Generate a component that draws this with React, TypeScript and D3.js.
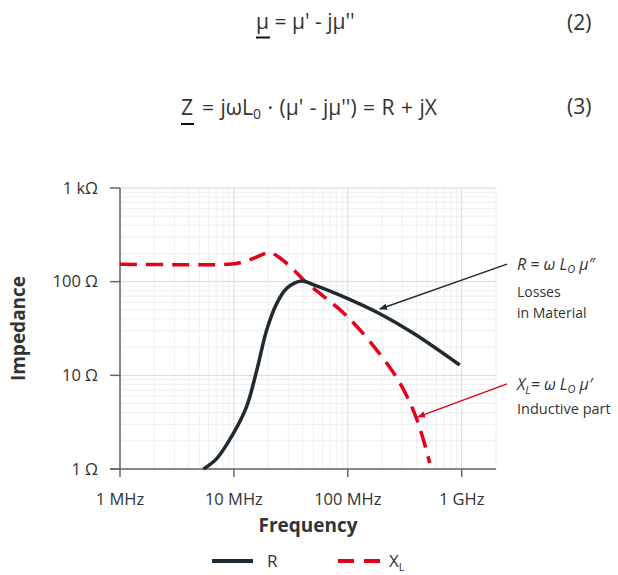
import React from 'react';
import * as d3 from 'd3';

// frequency in MHz, impedance in ohm
const rFreq = [5.4, 7.1, 9.9, 12.9, 15.9, 19.4, 23.8, 29.1, 39.4, 49.6, 100, 191, 374, 960];
const rVal = [1, 1.3, 2.4, 4.6, 11.4, 30.5, 58.7, 84.9, 101.6, 93, 66, 45.5, 28.3, 12.9];

const xlFreq = [1, 3, 6, 8.9, 11.3, 14.8, 18, 20.7, 25.4, 35.6, 42, 49.6, 100, 191, 286, 400, 524];
const xlVal = [153, 152, 152, 153, 159, 177, 196, 204, 179, 124, 101, 85.6, 41.9, 16.9, 8.3, 3.5, 1.16];

const xTicks = [1, 10, 100, 1000];
const xTickLabels = ['1 MHz', '10 MHz', '100 MHz', '1 GHz'];
const yTicks = [1, 10, 100, 1000];
const yTickLabels = ['1 Ω', '10 Ω', '100 Ω', '1 kΩ'];

// arrows: [fromFreq, fromVal, toFreq, toVal]
const rArrow = [2500, 154, 191, 51];
const xlArrow = [2500, 8.1, 413, 3.6];

const W = 618;
const H = 575;
const margin = { top: 188, right: 122, bottom: 106, left: 120 };

const font = '"Open Sans", sans-serif';
const textColor = '#333';
const dark = '#1f2a32';
const red = '#e2001a';

export default function App() {
  const x = d3.scaleLog().domain([1, 2000]).range([margin.left, W - margin.right]);
  const y = d3.scaleLog().domain([1, 1000]).range([H - margin.bottom, margin.top]);
  const [x0, x1] = x.range();
  const [y0, y1] = y.range();

  const minorX: number[] = [];
  for (const d of [1, 10, 100, 1000]) {
    for (let k = 2; k <= 9; k++) if (k * d <= 2000) minorX.push(k * d);
  }
  const minorY: number[] = [];
  for (const d of [1, 10, 100]) {
    for (let k = 2; k <= 9; k++) minorY.push(k * d);
  }

  const line = d3.line<[number, number]>()
    .x(d => x(d[0]))
    .y(d => y(d[1]))
    .curve(d3.curveCatmullRom.alpha(0.5));

  const rPath = line(rFreq.map((f, i) => [f, rVal[i]]));
  const xlPath = line(xlFreq.map((f, i) => [f, xlVal[i]]));

  return (
    <div style={{ position: 'absolute', left: 0, top: 0 }}>
      <svg width={W} height={H} style={{ display: 'block', background: '#fff' }}>
        <defs>
          <marker id="arrDark" viewBox="0 0 10 10" refX="9" refY="5" markerWidth="8" markerHeight="8" orient="auto" markerUnits="userSpaceOnUse">
            <path d="M0,1 L10,5 L0,9 Z" fill={dark} />
          </marker>
          <marker id="arrRed" viewBox="0 0 10 10" refX="9" refY="5" markerWidth="8" markerHeight="8" orient="auto" markerUnits="userSpaceOnUse">
            <path d="M0,1 L10,5 L0,9 Z" fill={red} />
          </marker>
        </defs>

        {/* equations */}
        <g fontFamily={font} fontSize={21} fill={textColor}>
          <text x={256} y={29}>μ = μ' - jμ''</text>
          <line x1={256} x2={270} y1={37.5} y2={37.5} stroke="#111" strokeWidth={2} />
          <text x={567} y={30}>(2)</text>

          <text x={181} y={115} wordSpacing={1}>
            Z<tspan dx={9}>= jωL</tspan>
            <tspan fontSize={14} dy={4}>0</tspan>
            <tspan dy={-4}> · (μ' - jμ'') = R + jX</tspan>
          </text>
          <line x1={181} x2={194} y1={124} y2={124} stroke="#111" strokeWidth={2} />
          <text x={567} y={114}>(3)</text>
        </g>

        {/* grid */}
        <g>
          {minorX.map(v => (
            <line key={'mx' + v} x1={x(v)} x2={x(v)} y1={y1} y2={y0} stroke="#efefef" strokeWidth={1} />
          ))}
          {minorY.map(v => (
            <line key={'my' + v} x1={x0} x2={x1} y1={y(v)} y2={y(v)} stroke="#efefef" strokeWidth={1} />
          ))}
          {xTicks.map(v => (
            <line key={'gx' + v} x1={x(v)} x2={x(v)} y1={y1} y2={y0} stroke="#d9d9d9" strokeWidth={1} />
          ))}
          {yTicks.map(v => (
            <line key={'gy' + v} x1={x0} x2={x1} y1={y(v)} y2={y(v)} stroke="#d9d9d9" strokeWidth={1} />
          ))}
        </g>

        {/* axes */}
        <g stroke="#666" strokeWidth={1.5}>
          <line x1={x0} x2={x0} y1={y1} y2={y0} />
          <line x1={x0 - 10} x2={x1} y1={y0} y2={y0} />
          {yTicks.map(v => (
            <line key={'ty' + v} x1={x0 - 10} x2={x0} y1={y(v)} y2={y(v)} />
          ))}
          {xTicks.map(v => (
            <line key={'tx' + v} x1={x(v)} x2={x(v)} y1={y0} y2={y0 + 8} />
          ))}
        </g>

        <g fontFamily={font} fontSize={16.5} fill={textColor}>
          {yTicks.map((v, i) => (
            <text key={'ly' + v} x={x0 - 22} y={y(v)} dy="0.35em" textAnchor="end">{yTickLabels[i]}</text>
          ))}
          {xTicks.map((v, i) => (
            <text key={'lx' + v} x={x(v)} y={y0 + 36} textAnchor="middle">{xTickLabels[i]}</text>
          ))}
        </g>

        {/* axis titles */}
        <text x={(x0 + x1) / 2} y={532} textAnchor="middle" fontFamily={font} fontSize={19} fontWeight="bold" fill={textColor}>Frequency</text>
        <text transform={`translate(25,${(y0 + y1) / 2}) rotate(-90)`} textAnchor="middle" fontFamily={font} fontSize={19} fontWeight="bold" fill={textColor}>Impedance</text>

        {/* series */}
        <path d={xlPath || ''} fill="none" stroke={red} strokeWidth={3.5} strokeDasharray="17 9" />
        <path d={rPath || ''} fill="none" stroke={dark} strokeWidth={3.5} />

        {/* annotations */}
        <line x1={x(rArrow[0])} y1={y(rArrow[1])} x2={x(rArrow[2])} y2={y(rArrow[3])} stroke={dark} strokeWidth={1.5} markerEnd="url(#arrDark)" />
        <line x1={x(xlArrow[0])} y1={y(xlArrow[1])} x2={x(xlArrow[2])} y2={y(xlArrow[3])} stroke={red} strokeWidth={1.5} markerEnd="url(#arrRed)" />

        <g fontFamily={font} fill={textColor}>
          <text x={517} y={270} fontSize={16} fontStyle="italic">
            R = ω  L<tspan fontSize={11} dy={3}>O</tspan><tspan dy={-3}> μ″</tspan>
          </text>
          <text x={517} y={297} fontSize={14}>Losses</text>
          <text x={517} y={318} fontSize={14}>in Material</text>
          <text x={517} y={390} fontSize={16} fontStyle="italic">
            X<tspan fontSize={11} dy={4}>L</tspan><tspan dy={-4}>= ω  L</tspan><tspan fontSize={11} dy={3}>O</tspan><tspan dy={-3}> μ′</tspan>
          </text>
          <text x={517} y={414} fontSize={14.5}>Inductive part</text>
        </g>

        {/* legend */}
        <g>
          <line x1={212} x2={253} y1={561} y2={561} stroke={dark} strokeWidth={4} />
          <text x={267} y={567} fontFamily={font} fontSize={17} fill={textColor}>R</text>
          <line x1={338} x2={380} y1={561} y2={561} stroke={red} strokeWidth={4} strokeDasharray="16 10" />
          <text x={389} y={567} fontFamily={font} fontSize={17} fill={textColor}>
            X<tspan fontSize={11} dy={4}>L</tspan>
          </text>
        </g>
      </svg>
    </div>
  );
}
